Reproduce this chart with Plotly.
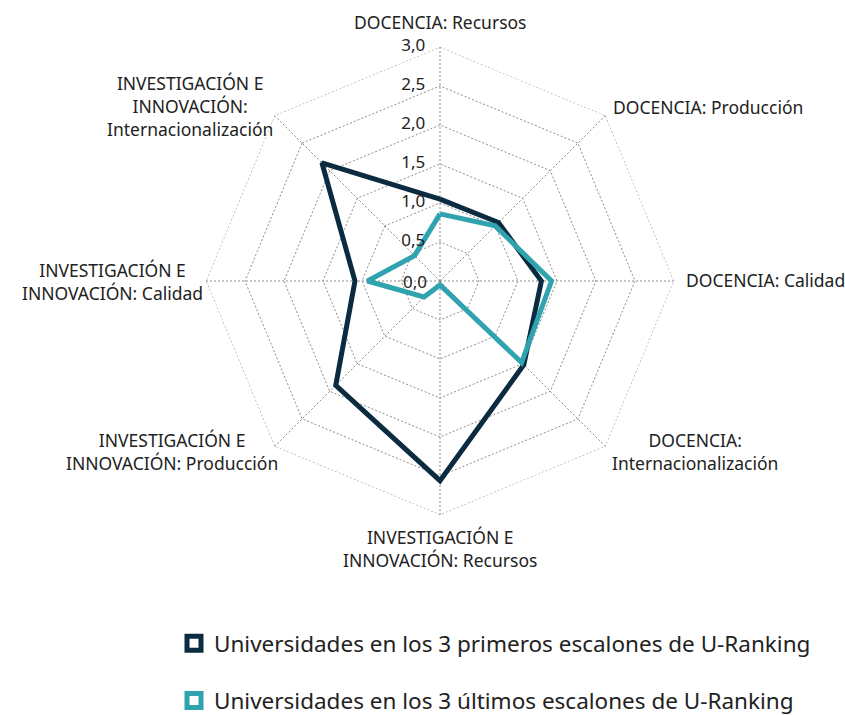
import plotly.graph_objects as go

categories = [
    "DOCENCIA: Recursos",
    "DOCENCIA: Producción",
    "DOCENCIA: Calidad",
    "DOCENCIA: Internacionalización",
    "INVESTIGACIÓN E INNOVACIÓN: Recursos",
    "INVESTIGACIÓN E INNOVACIÓN: Producción",
    "INVESTIGACIÓN E INNOVACIÓN: Calidad",
    "INVESTIGACIÓN E INNOVACIÓN: Internacionalización",
]
top3 = [1.05, 1.06, 1.30, 1.52, 2.56, 1.89, 1.09, 2.14]
bottom3 = [0.86, 1.00, 1.43, 1.48, 0.05, 0.29, 0.93, 0.46]
series_names = [
    "Universidades en los 3 primeros escalones de U-Ranking",
    "Universidades en los 3 últimos escalones de U-Ranking",
]
radial_ticks = [0, 0.5, 1.0, 1.5, 2.0, 2.5, 3.0]
radial_tick_text = ["0,0", "0,5", "1,0", "1,5", "2,0", "2,5", "3,0"]
radial_max = 3.0

label_text = [
    "DOCENCIA: Recursos",
    "DOCENCIA: Producción",
    "DOCENCIA: Calidad",
    "DOCENCIA:<br>Internacionalización",
    "INVESTIGACIÓN E<br>INNOVACIÓN: Recursos",
    "INVESTIGACIÓN E<br>INNOVACIÓN: Producción",
    "INVESTIGACIÓN E<br>INNOVACIÓN: Calidad",
    "INVESTIGACIÓN E<br>INNOVACIÓN:<br>Internacionalización",
]
# label anchor points in pixels (layout only): (x, y, xanchor)
label_pos = [(440, 22, "center"), (708, 107, "center"), (765, 280, "center"),
             (695, 451, "center"), (440, 548, "center"),
             (172, 451, "center"), (112, 281, "center"), (190, 106, "center")]

dark = "#0B2B40"
light = "#2FA3AF"
grid = "#8c8c8c"
W, H = 845, 715
cx, cy, R = 440, 281, 234

fig = go.Figure()
# outer frame of the radar (3.0 ring)
fig.add_trace(go.Scatterpolar(
    r=[radial_max] * (len(categories) + 1), theta=categories + categories[:1],
    mode="lines", line=dict(color=grid, width=1, dash="2px,2px"),
    showlegend=False, hoverinfo="skip"))
for vals, col in [(top3, dark), (bottom3, light)]:
    fig.add_trace(go.Scatterpolar(
        r=vals + vals[:1], theta=categories + categories[:1],
        mode="lines", line=dict(color=col, width=5),
        showlegend=False, hoverinfo="skip"))
# radial tick labels placed on the first spoke, left of it
fig.add_trace(go.Scatterpolar(
    r=radial_ticks[1:], theta=[categories[0]] * (len(radial_ticks) - 1),
    mode="markers+text", text=radial_tick_text[1:], textposition="middle left",
    textfont=dict(size=17, color="#222"),
    marker=dict(size=22, color="rgba(0,0,0,0)"),
    showlegend=False, hoverinfo="skip", cliponaxis=False))
# the 0,0 label at the centre
fig.add_annotation(x=(cx - 11) / W, y=1 - cy / H, xref="paper", yref="paper",
                   text=radial_tick_text[0], showarrow=False, xanchor="right",
                   yanchor="middle", font=dict(size=17, color="#222"))
for name, col, grp in [(series_names[0], dark, "a"), (series_names[1], light, "b")]:
    fig.add_trace(go.Scatterpolar(
        r=[None], theta=[categories[0]], mode="markers", name=name,
        legendgroup=grp,
        marker=dict(symbol="square", size=14, color="white",
                    line=dict(color=col, width=5))))

for (x, y, xa), t in zip(label_pos, label_text):
    fig.add_annotation(x=x / W, y=1 - y / H, xref="paper", yref="paper",
                       text=t, showarrow=False, xanchor=xa, yanchor="middle",
                       align="center", font=dict(size=17.5, color="#222"))

fig.update_layout(
    width=W, height=H, margin=dict(l=0, r=0, t=0, b=0, autoexpand=False),
    paper_bgcolor="white", plot_bgcolor="white",
    font=dict(family="Noto Sans, Open Sans, sans-serif", color="#222"),
    polar=dict(
        domain=dict(x=[(cx - R) / W, (cx + R) / W], y=[1 - (cy + R) / H, 1 - (cy - R) / H]),
        gridshape="linear", bgcolor="white",
        radialaxis=dict(range=[0, radial_max], tickvals=radial_ticks, showticklabels=False,
                        angle=90, showline=False, ticks="", gridcolor=grid,
                        griddash="2px,2px", gridwidth=1),
        angularaxis=dict(direction="clockwise", rotation=90, showticklabels=False,
                         ticks="", showline=False,
                         gridcolor=grid, griddash="2px,2px", gridwidth=1),
    ),
    legend=dict(x=174 / W, y=1 - 622 / H, xanchor="left", yanchor="top",
                traceorder="grouped", tracegroupgap=25,
                font=dict(size=22.5, color="#222"), itemsizing="trace",
                itemwidth=30),
)
fig.write_html("out.html", config={"displayModeBar": False},
               post_script="document.body.style.margin='0px';")
